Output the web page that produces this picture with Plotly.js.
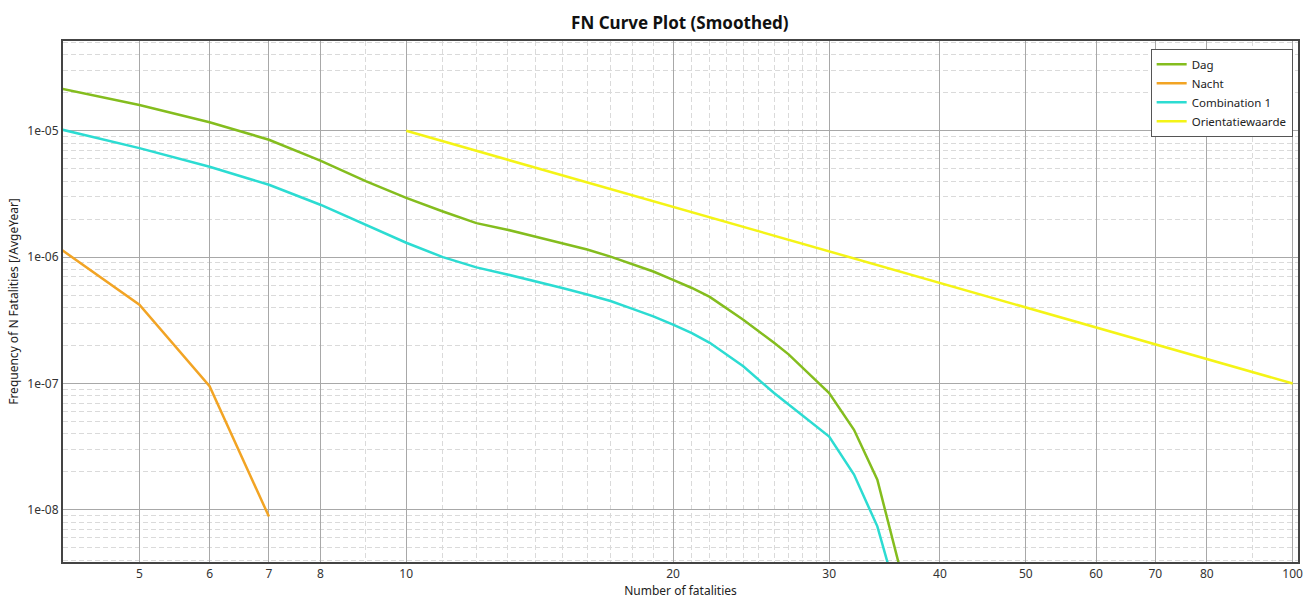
<!DOCTYPE html>
<html>
<head>
<meta charset="utf-8">
<script src="https://cdn.plot.ly/plotly-3.0.1.min.js"></script>
<style>
html,body{margin:0;padding:0;background:#fff;}
#chart{width:1315px;height:599px;}
</style>
</head>
<body>
<div id="chart"></div>
<script>
// ---- data ----
const dagN = [4, 5, 6, 7, 8, 9, 10, 11, 12, 13, 14, 15, 16, 17, 18, 19, 20, 21, 22, 23, 24, 26, 27, 30, 32, 34, 36];
const dagF = [2.22e-5, 1.6e-5, 1.17e-5, 8.5e-6, 5.8e-6, 4.0e-6, 2.95e-6, 2.3e-6, 1.86e-6, 1.65e-6, 1.45e-6, 1.29e-6, 1.15e-6, 1.01e-6, 8.8e-7, 7.7e-7, 6.6e-7, 5.7e-7, 4.85e-7, 3.95e-7, 3.2e-7, 2.1e-7, 1.7e-7, 8.4e-8, 4.3e-8, 1.73e-8, 3.6e-9];

const nachtN = [4, 5, 6, 7];
const nachtF = [1.27e-6, 4.2e-7, 9.5e-8, 8.85e-9];

const combN = [4, 5, 6, 7, 8, 9, 10, 11, 12, 13, 14, 15, 16, 17, 18, 19, 20, 21, 22, 23, 24, 26, 27, 30, 32, 34, 35];
const combF = [1.06e-5, 7.3e-6, 5.2e-6, 3.74e-6, 2.6e-6, 1.8e-6, 1.3e-6, 1.0e-6, 8.3e-7, 7.3e-7, 6.45e-7, 5.7e-7, 5.06e-7, 4.5e-7, 3.9e-7, 3.4e-7, 2.92e-7, 2.5e-7, 2.1e-7, 1.7e-7, 1.37e-7, 8.4e-8, 6.8e-8, 3.8e-8, 1.9e-8, 7.4e-9, 3.6e-9];

const orientN = [10, 100];
const orientF = [1e-5, 1e-7];

const xTickVals = [5, 6, 7, 8, 10, 20, 30, 40, 50, 60, 70, 80, 100];
const xTickText = ["5", "6", "7", "8", "10", "20", "30", "40", "50", "60", "70", "80", "100"];
const xMinorVals = [9, 11, 12, 13, 14, 15, 16, 17, 18, 19, 21, 22, 23, 24, 25, 26, 27, 28, 29, 90];

const yTickVals = [1e-8, 1e-7, 1e-6, 1e-5];
const yTickText = ["1e-08", "1e-07", "1e-06", "1e-05"];
const yMinorVals = [];
[1e-9, 1e-8, 1e-7, 1e-6, 1e-5].forEach(d => { for (let k = 2; k <= 9; k++) yMinorVals.push(k * d); });

const FONT = "Noto Sans, Open Sans, sans-serif";

const traces = [
  {x: dagN, y: dagF, name: "Dag", mode: "lines", line: {color: "#84bd1e", width: 2.5}},
  {x: nachtN, y: nachtF, name: "Nacht", mode: "lines", line: {color: "#f2a424", width: 2.5}},
  {x: combN, y: combF, name: "Combination 1", mode: "lines", line: {color: "#2cdcd2", width: 2.5}},
  {x: orientN, y: orientF, name: "Orientatiewaarde", mode: "lines", line: {color: "#f4f416", width: 2.5}}
];

const layout = {
  width: 1315, height: 599,
  margin: {l: 63, r: 17, t: 41, b: 37},
  paper_bgcolor: "#ffffff",
  plot_bgcolor: "#ffffff",
  font: {family: FONT, size: 12, color: "#222"},
  title: {text: "<b>FN Curve Plot (Smoothed)</b>", font: {family: FONT, size: 17, color: "#111"}, x: 0.517, xanchor: "center", y: 0.962, yanchor: "middle"},
  showlegend: true,
  legend: {
    x: 0.8807, y: 0.985, xanchor: "left", yanchor: "top",
    bgcolor: "#ffffff", bordercolor: "#555", borderwidth: 1,
    font: {family: FONT, size: 11.5, color: "#222"},
    itemwidth: 30, tracegroupgap: 0
  },
  xaxis: {
    type: "log",
    range: [Math.log10(4.1), Math.log10(101.4)],
    tickmode: "array", tickvals: xTickVals, ticktext: xTickText,
    showgrid: true, gridcolor: "#a8a8a8", gridwidth: 1,
    ticks: "", tickfont: {family: FONT, size: 12, color: "#333"},
    showline: true, linecolor: "#444", linewidth: 2, mirror: true,
    zeroline: false,
    minor: {tickmode: "array", tickvals: xMinorVals, showgrid: true, gridcolor: "#dadada", griddash: "5px,3px", gridwidth: 1},
    title: {text: "Number of fatalities", font: {family: FONT, size: 12, color: "#222"}, standoff: 4}
  },
  yaxis: {
    type: "log",
    range: [-8.413, -4.289],
    tickmode: "array", tickvals: yTickVals, ticktext: yTickText,
    showgrid: true, gridcolor: "#a8a8a8", gridwidth: 1,
    ticks: "", tickfont: {family: FONT, size: 12, color: "#333"},
    showline: true, linecolor: "#444", linewidth: 2, mirror: true,
    zeroline: false,
    minor: {tickmode: "array", tickvals: yMinorVals, showgrid: true, gridcolor: "#dadada", griddash: "5px,3px", gridwidth: 1},
    title: {text: "Frequency of N Fatalities [/AvgeYear]", font: {family: FONT, size: 12, color: "#222"}, standoff: 6}
  }
};

Plotly.newPlot("chart", traces, layout, {displayModeBar: false, staticPlot: true});
</script>
</body>
</html>
